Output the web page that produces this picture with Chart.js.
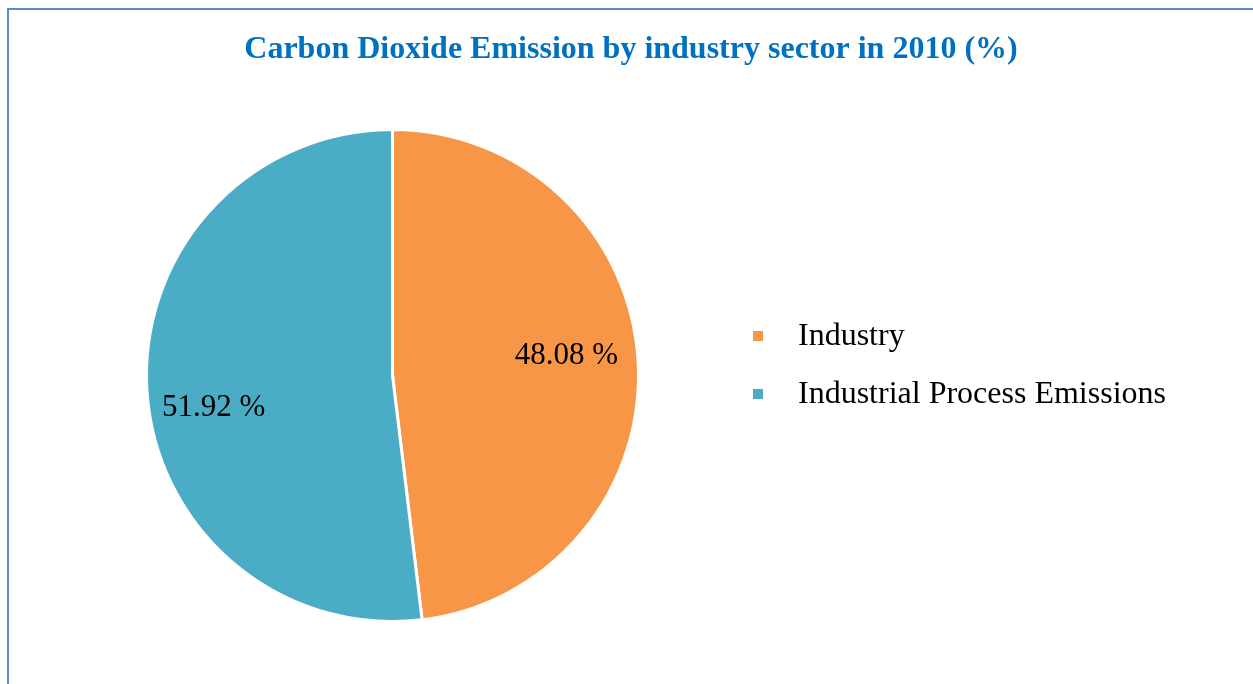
<!DOCTYPE html>
<html>
<head>
<meta charset="utf-8">
<script src="https://cdn.jsdelivr.net/npm/chart.js@4/dist/chart.umd.min.js"></script>
<style>
    html, body { margin: 0; padding: 0; background: #fff; overflow: hidden; }
    #frame {
        position: absolute; left: 7px; top: 8px;
        width: 1260px; height: 700px;
        border: 2px solid #5b8ac8;
    }
    #chart { position: absolute; left: 0; top: 0; }
</style>
</head>
<body>
<div id="frame"></div>
<canvas id="chart" width="1253" height="684"></canvas>
<script>
const chartTitle = "Carbon Dioxide Emission by industry sector in 2010 (%)";
const sectors = ["Industry", "Industrial Process Emissions"];
const shares = [48.08, 51.92];
const sliceColors = ["#F79646", "#4BACC6"];

// small nudges so the percentage labels sit where the slices leave room
const labelNudgeX = [-3, -2];
const labelNudgeY = [-9, 22];

// title, legend and percentage labels are painted by hand
const decorations = {
    id: "decorations",
    afterDraw(chart) {
        const ctx = chart.ctx;
        ctx.save();

        ctx.fillStyle = "#0070C0";
        ctx.font = "bold 32px 'Liberation Serif'";
        ctx.textAlign = "center";
        ctx.textBaseline = "middle";
        ctx.fillText(chartTitle, 631, 50);

        ctx.font = "32px 'Liberation Serif'";
        ctx.textAlign = "left";
        sectors.forEach((name, i) => {
            const y = 336 + i * 58;
            ctx.fillStyle = sliceColors[i];
            ctx.fillRect(753, y - 5, 10, 10);
            ctx.fillStyle = "#000";
            ctx.fillText(name, 798, y + 1);
        });

        ctx.font = "31px 'Liberation Serif'";
        ctx.textAlign = "center";
        chart.getDatasetMeta(0).data.forEach((arc, i) => {
            const p = arc.getProps(["x", "y", "startAngle", "endAngle", "outerRadius"], true);
            const mid = (p.startAngle + p.endAngle) / 2;
            const r = p.outerRadius * 0.72;
            ctx.fillStyle = "#000";
            ctx.fillText(shares[i].toFixed(2) + " %",
                p.x + Math.cos(mid) * r + labelNudgeX[i],
                p.y + Math.sin(mid) * r + labelNudgeY[i]);
        });
        ctx.restore();
    }
};

new Chart(document.getElementById("chart").getContext("2d"), {
    type: "pie",
    data: {
        labels: sectors,
        datasets: [{
            data: shares,
            backgroundColor: sliceColors,
            borderColor: "#fff",
            borderWidth: 3
        }]
    },
    options: {
        responsive: false,
        animation: false,
        layout: { padding: { left: 145, right: 613, top: 128, bottom: 61 } },
        plugins: {
            legend: { display: false },
            title: { display: false },
            tooltip: { enabled: false }
        }
    },
    plugins: [decorations]
});
</script>
</body>
</html>
